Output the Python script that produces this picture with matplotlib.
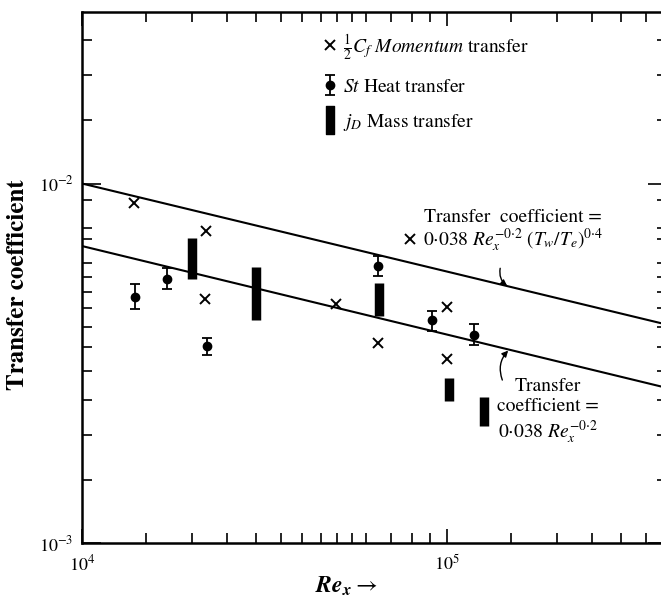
import numpy as np
import matplotlib
matplotlib.use("Agg")
import matplotlib.pyplot as plt
from matplotlib.lines import Line2D
from matplotlib.path import Path
from matplotlib.ticker import FixedLocator, NullFormatter

plt.rcParams['font.family'] = 'STIXGeneral'
plt.rcParams['mathtext.fontset'] = 'stix'

# Skin-friction points (1/2 Cf)
cf_re = [1.39e4, 2.19e4, 2.17e4, 4.95e4, 6.47e4, 7.9e4, 1.0e5, 1.0e5]
cf_val = [8.84e-3, 7.40e-3, 4.76e-3, 4.61e-3, 3.59e-3, 7.03e-3, 4.53e-3, 3.24e-3]

# Stanton number points with scatter band
st_re = [1.40e4, 1.71e4, 2.20e4, 6.48e4, 9.08e4, 1.186e5]
st_val = [4.83e-3, 5.44e-3, 3.53e-3, 5.88e-3, 4.16e-3, 3.80e-3]
st_low = [4.48e-3, 5.08e-3, 3.33e-3, 5.52e-3, 3.88e-3, 3.55e-3]
st_high = [5.24e-3, 5.83e-3, 3.72e-3, 6.27e-3, 4.41e-3, 4.06e-3]

# Mass-transfer ranges (j_D)
jd_re = [2.0e4, 3.0e4, 6.5e4, 1.013e5, 1.263e5]
jd_low = [5.41e-3, 4.16e-3, 4.28e-3, 2.48e-3, 2.11e-3]
jd_high = [7.07e-3, 5.85e-3, 5.28e-3, 2.88e-3, 2.55e-3]

# Correlation lines
line_re = [1e4, 4e5]
upper_line = [1.0e-2, 4.05e-3]
lower_line = [6.7e-3, 2.7e-3]

x_minor = [1.5e4, 2e4, 2.5e4, 3e4, 3.5e4, 4e4, 4.5e4, 5e4, 5.5e4, 6e4, 7e4, 8e4, 9e4,
           1.5e5, 2e5, 2.5e5, 3e5, 3.5e5]
y_minor = [1.5e-3, 2e-3, 2.5e-3, 3e-3, 3.5e-3, 4e-3, 4.5e-3, 5e-3, 5.5e-3, 6e-3, 7e-3,
           7.5e-3, 9e-3, 1.5e-2, 2e-2, 2.5e-2]

fig = plt.figure(figsize=(6.61, 6.01), dpi=100)
ax = fig.add_axes([82 / 661, 58 / 601, 585 / 661, 531 / 601])
ax.set_xscale('log')
ax.set_yscale('log')
ax.set_xlim(1e4, 4e5)
ax.set_ylim(1e-3, 3e-2)

ax.plot(line_re, upper_line, color='k', lw=1.5)
ax.plot(line_re, lower_line, color='k', lw=1.5)

ax.plot(cf_re, cf_val, ls='none', marker='x', color='k', ms=7, mew=1.4)

st_val_a = np.array(st_val)
yerr = [st_val_a - np.array(st_low), np.array(st_high) - st_val_a]
st = ax.errorbar(st_re, st_val, yerr=yerr, fmt='o', color='k', ms=6,
                 capsize=3.5, elinewidth=1.3, capthick=1.3)

ax.vlines(jd_re, jd_low, jd_high, color='k', lw=6.8, capstyle='butt')

# legend
bar_marker = Path([(-0.3, -1), (0.3, -1), (0.3, 1), (-0.3, 1), (-0.3, -1)],
                  [Path.MOVETO, Path.LINETO, Path.LINETO, Path.LINETO, Path.CLOSEPOLY])
h_cf = Line2D([], [], ls='none', marker='x', color='k', ms=7, mew=1.4)
h_jd = Line2D([], [], ls='none', marker=bar_marker, color='k', ms=20)
ax.legend([h_cf, st, h_jd],
          [r'$\frac{1}{2}C_f$ $\mathit{Momentum}$ transfer',
           r'$St$ Heat transfer',
           r'$j_D$ Mass transfer'],
          loc='upper left', bbox_to_anchor=(0.378, 0.996), frameon=False,
          fontsize=14, handlelength=1.0, handletextpad=0.15, labelspacing=0.85)

# annotations
ax.text(1.517e5, 7.35e-3,
        'Transfer  coefficient =\n' + r'$0{\cdot}038\ Re_x^{-0{\cdot}2}\ (T_w/T_e)^{0{\cdot}4}$',
        ha='center', va='center', fontsize=14, linespacing=1.0)
ax.annotate('', xy=(1.46e5, 5.19e-3), xytext=(1.397e5, 5.81e-3),
            arrowprops=dict(arrowstyle='-|>', color='k', lw=1.0, mutation_scale=9,
                            connectionstyle='arc3,rad=0.3', shrinkA=0, shrinkB=0))
ax.text(1.89e5, 2.31e-3,
        'Transfer\ncoefficient =\n' + r'$0{\cdot}038\ Re_x^{-0{\cdot}2}$',
        ha='center', va='center', fontsize=14, linespacing=1.2)
ax.annotate('', xy=(1.469e5, 3.43e-3), xytext=(1.416e5, 2.84e-3),
            arrowprops=dict(arrowstyle='-|>', color='k', lw=1.0, mutation_scale=9,
                            connectionstyle='arc3,rad=-0.3', shrinkA=0, shrinkB=0))

# axes styling
for s in ax.spines.values():
    s.set_linewidth(1.8)
ax.xaxis.set_minor_locator(FixedLocator(x_minor))
ax.yaxis.set_minor_locator(FixedLocator(y_minor))
ax.xaxis.set_minor_formatter(NullFormatter())
ax.yaxis.set_minor_formatter(NullFormatter())
ax.tick_params(which='both', direction='in', top=True, right=True, labelsize=13, width=1.2)
ax.tick_params(axis='x', which='major', length=10, pad=8)
ax.tick_params(axis='y', which='major', length=14, pad=6)
ax.tick_params(which='minor', length=7.5)

ax.set_xlabel(r'$\mathbfit{Re}_\mathbfit{x} \rightarrow$', fontsize=17, va='center')
ax.xaxis.set_label_coords((346 - 82) / 585, -(586 - 543) / 531)
ax.set_ylabel('Transfer coefficient', fontsize=18, fontweight='bold', va='center')
ax.yaxis.set_label_coords((18 - 82) / 585, (543 - 285) / 531)

fig.savefig('out.png', dpi=100)
